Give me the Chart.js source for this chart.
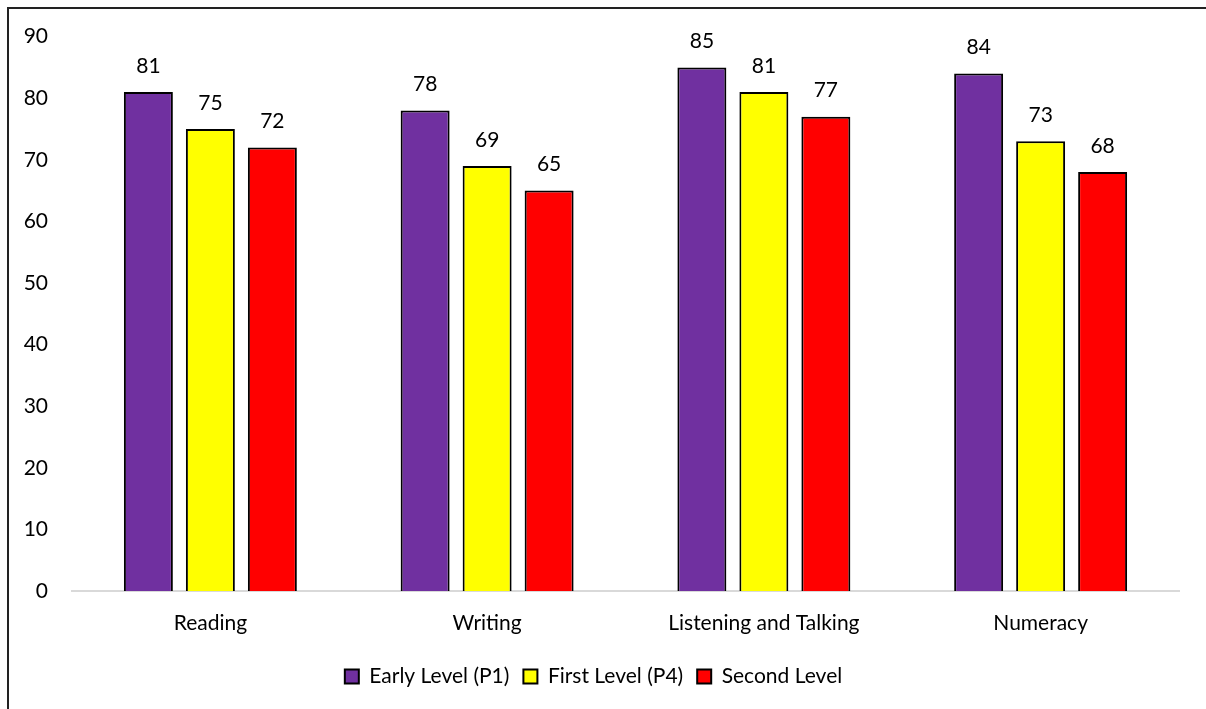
<!DOCTYPE html>
<html>
<head>
<meta charset="utf-8">
<style>
  html, body { margin: 0; padding: 0; background: #fff; }
  #wrap { position: relative; width: 1206px; height: 709px; }
</style>
<script src="https://cdn.jsdelivr.net/npm/chart.js@4/dist/chart.umd.min.js"></script>
</head>
<body>
<div id="wrap"><canvas id="chart" width="1206" height="709"></canvas></div>
<script>
// Attainment by curriculum area (% of pupils)
const categories = ['Reading', 'Writing', 'Listening and Talking', 'Numeracy'];
const earlyLevel = [81, 78, 85, 84];
const firstLevel = [75, 69, 81, 73];
const secondLevel = [72, 65, 77, 68];
const seriesNames = ['Early Level (P1)', 'First Level (P4)', 'Second Level'];
const yTicks = [0, 10, 20, 30, 40, 50, 60, 70, 80, 90];

const FONT = 'Lato, "Open Sans", sans-serif';
const TEXT = '#000000';

// Value labels above each bar
const valueLabels = {
  id: 'valueLabels',
  afterDatasetsDraw(chart) {
    const ctx = chart.ctx;
    ctx.save();
    ctx.font = '21px ' + FONT;
    ctx.fillStyle = TEXT;
    ctx.textAlign = 'center';
    ctx.textBaseline = 'middle';
    chart.data.datasets.forEach((ds, i) => {
      chart.getDatasetMeta(i).data.forEach((bar, j) => {
        ctx.fillText(String(ds.data[j]), bar.x, bar.y - 26);
      });
    });
    ctx.restore();
  }
};

// Frame lines along the top and left edges
const frame = {
  id: 'frame',
  beforeDraw(chart) {
    const ctx = chart.ctx;
    ctx.save();
    ctx.fillStyle = '#fff';
    ctx.fillRect(0, 0, chart.width, chart.height);
    ctx.strokeStyle = '#222';
    ctx.lineWidth = 2;
    ctx.beginPath();
    ctx.moveTo(8, chart.height);
    ctx.lineTo(8, 8);
    ctx.lineTo(chart.width, 8);
    ctx.stroke();
    ctx.restore();
  }
};

new Chart(document.getElementById('chart'), {
  type: 'bar',
  data: {
    labels: categories,
    datasets: [
      { label: seriesNames[0], data: earlyLevel, backgroundColor: '#7030A0' },
      { label: seriesNames[1], data: firstLevel, backgroundColor: '#FFFF00' },
      { label: seriesNames[2], data: secondLevel, backgroundColor: '#FF0000' }
    ].map(d => Object.assign(d, {
      borderColor: '#000',
      borderWidth: 2,
      borderSkipped: 'bottom',
      categoryPercentage: 0.672,
      barPercentage: 0.79
    }))
  },
  options: {
    responsive: false,
    animation: false,
    devicePixelRatio: 1,
    layout: { padding: { left: 8, right: 27, top: 36, bottom: 12 } },
    plugins: {
      legend: {
        position: 'bottom',
        labels: {
          font: { family: FONT, size: 21 },
          color: TEXT,
          boxWidth: 14,
          boxHeight: 14,
          padding: 14
        }
      },
      tooltip: { enabled: false }
    },
    scales: {
      x: {
        grid: { display: false, drawTicks: false },
        border: { display: true, color: '#d9d9d9', width: 2 },
        ticks: { font: { family: FONT, size: 21 }, color: TEXT, padding: 20 },
        afterFit(scale) { scale.height = 61; }
      },
      y: {
        min: 0,
        max: 90,
        grid: { display: false, drawTicks: false },
        border: { display: false },
        ticks: {
          font: { family: FONT, size: 21 },
          color: TEXT,
          padding: 24,
          stepSize: 10,
          callback: (v) => yTicks.includes(v) ? String(v) : ''
        },
        afterFit(scale) { scale.width = 64; }
      }
    }
  },
  plugins: [frame, valueLabels]
});
</script>
</body>
</html>
